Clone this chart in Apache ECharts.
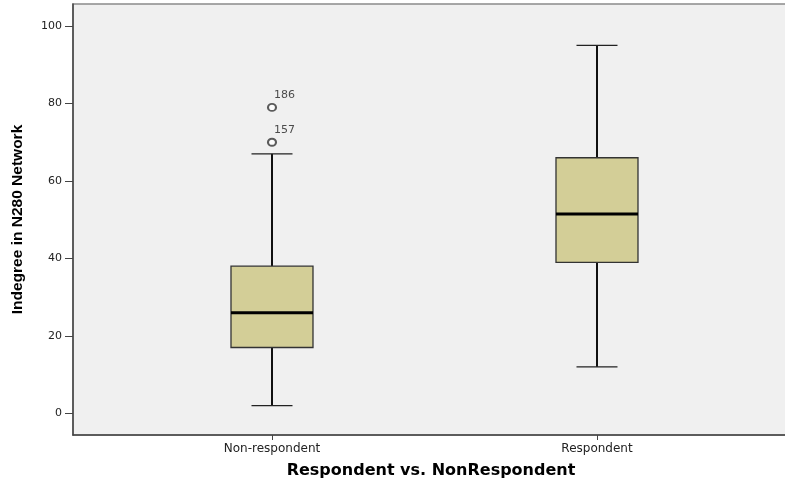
<!DOCTYPE html>
<html>
<head>
<meta charset="utf-8">
<script src="https://cdn.jsdelivr.net/npm/echarts@6/dist/echarts.min.js"></script>
<style>
  html, body { margin: 0; padding: 0; background: #ffffff; }
  #chart { width: 785px; height: 482px; }
</style>
</head>
<body>
<div id="chart"></div>
<script>
// Group labels along the horizontal axis
const categories = ['Non-respondent', 'Respondent'];

// Five-number summaries per group
const lowerWhisker = [2, 12];
const q1 = [17, 39];
const median = [26, 51.5];
const q3 = [38, 66];
const upperWhisker = [67, 95];

// Outlying cases (group index, value, case id)
const outlierGroup = [0, 0];
const outlierValues = [79, 70];
const outlierIds = ['186', '157'];

// Vertical axis tick labels
const yTicks = [0, 20, 40, 60, 80, 100];

const boxData = categories.map((c, i) => [i, lowerWhisker[i], q1[i], median[i], q3[i], upperWhisker[i]]);
const outlierData = outlierValues.map((v, i) => [outlierGroup[i], v, outlierIds[i]]);

const BOX_W = 82;

const chart = echarts.init(document.getElementById('chart'), null, { renderer: 'canvas' });

chart.setOption({
  animation: false,
  backgroundColor: '#ffffff',
  grid: {
    left: 73, right: -4, top: 4, bottom: 47,
    outerBoundsMode: 'none',
    containLabel: false,
    show: true,
    backgroundColor: '#f0f0f0',
    borderColor: '#8a8a8a',
    borderWidth: 1.5
  },
  xAxis: {
    type: 'value',
    min: -0.6123,
    max: 1.5908,
    splitLine: { show: false },
    axisLine: { show: true, onZero: false, lineStyle: { color: '#444', width: 1.5 } },
    axisTick: { show: true, customValues: [0, 1], length: 5, lineStyle: { color: '#444' } },
    axisLabel: {
      customValues: [0, 1],
      formatter: v => categories[Math.round(v)] || '',
      margin: 8,
      color: '#222',
      fontFamily: 'DejaVu Sans',
      fontSize: 12
    },
    name: 'Respondent vs. NonRespondent',
    nameLocation: 'middle',
    nameGap: 28,
    nameTextStyle: {
      color: '#000',
      fontFamily: 'DejaVu Sans',
      fontWeight: 'bold',
      fontSize: 16
    }
  },
  yAxis: {
    type: 'value',
    min: -5.6,
    max: 105.7,
    splitLine: { show: false },
    axisLine: { show: true, onZero: false, lineStyle: { color: '#444', width: 1.5 } },
    axisTick: { show: true, customValues: yTicks, length: 8, lineStyle: { color: '#444' } },
    axisLabel: {
      customValues: yTicks,
      margin: 11,
      color: '#222',
      fontFamily: 'DejaVu Sans',
      fontSize: 11
    },
    name: 'Indegree in N280 Network',
    nameLocation: 'middle',
    nameRotate: 90,
    nameGap: 47,
    nameTextStyle: {
      color: '#000',
      fontFamily: 'Liberation Sans',
      fontWeight: 'bold',
      fontSize: 15.5
    }
  },
  series: [
    {
      type: 'custom',
      data: boxData,
      encode: { x: 0, y: [1, 2, 3, 4, 5] },
      renderItem: function (params, api) {
        const x = api.value(0);
        const lo = api.coord([x, api.value(1)]);
        const b1 = api.coord([x, api.value(2)]);
        const md = api.coord([x, api.value(3)]);
        const b3 = api.coord([x, api.value(4)]);
        const hi = api.coord([x, api.value(5)]);
        const cx = lo[0];
        const half = BOX_W / 2;
        const cap = BOX_W / 4;
        return {
          type: 'group',
          children: [
            { type: 'line', shape: { x1: cx, y1: hi[1], x2: cx, y2: b3[1] }, style: { stroke: '#111', lineWidth: 2 } },
            { type: 'line', shape: { x1: cx, y1: b1[1], x2: cx, y2: lo[1] }, style: { stroke: '#111', lineWidth: 2 } },
            { type: 'line', shape: { x1: cx - cap, y1: hi[1], x2: cx + cap, y2: hi[1] }, style: { stroke: '#222', lineWidth: 1.3 } },
            { type: 'line', shape: { x1: cx - cap, y1: lo[1], x2: cx + cap, y2: lo[1] }, style: { stroke: '#222', lineWidth: 1.3 } },
            { type: 'rect', shape: { x: cx - half, y: b3[1], width: BOX_W, height: b1[1] - b3[1] }, style: { fill: '#d3ce97', stroke: '#333', lineWidth: 1.3 } },
            { type: 'line', shape: { x1: cx - half, y1: md[1], x2: cx + half, y2: md[1] }, style: { stroke: '#000', lineWidth: 3 } }
          ]
        };
      },
      z: 2
    },
    {
      type: 'scatter',
      data: outlierData,
      symbol: 'emptyCircle',
      symbolSize: [8, 7],
      itemStyle: { color: '#333', borderWidth: 1.2 },
      label: {
        show: true,
        formatter: p => p.data[2],
        position: [7, -13],
        color: '#222',
        fontFamily: 'DejaVu Sans',
        fontSize: 11
      },
      z: 3
    }
  ]
});
</script>
</body>
</html>
